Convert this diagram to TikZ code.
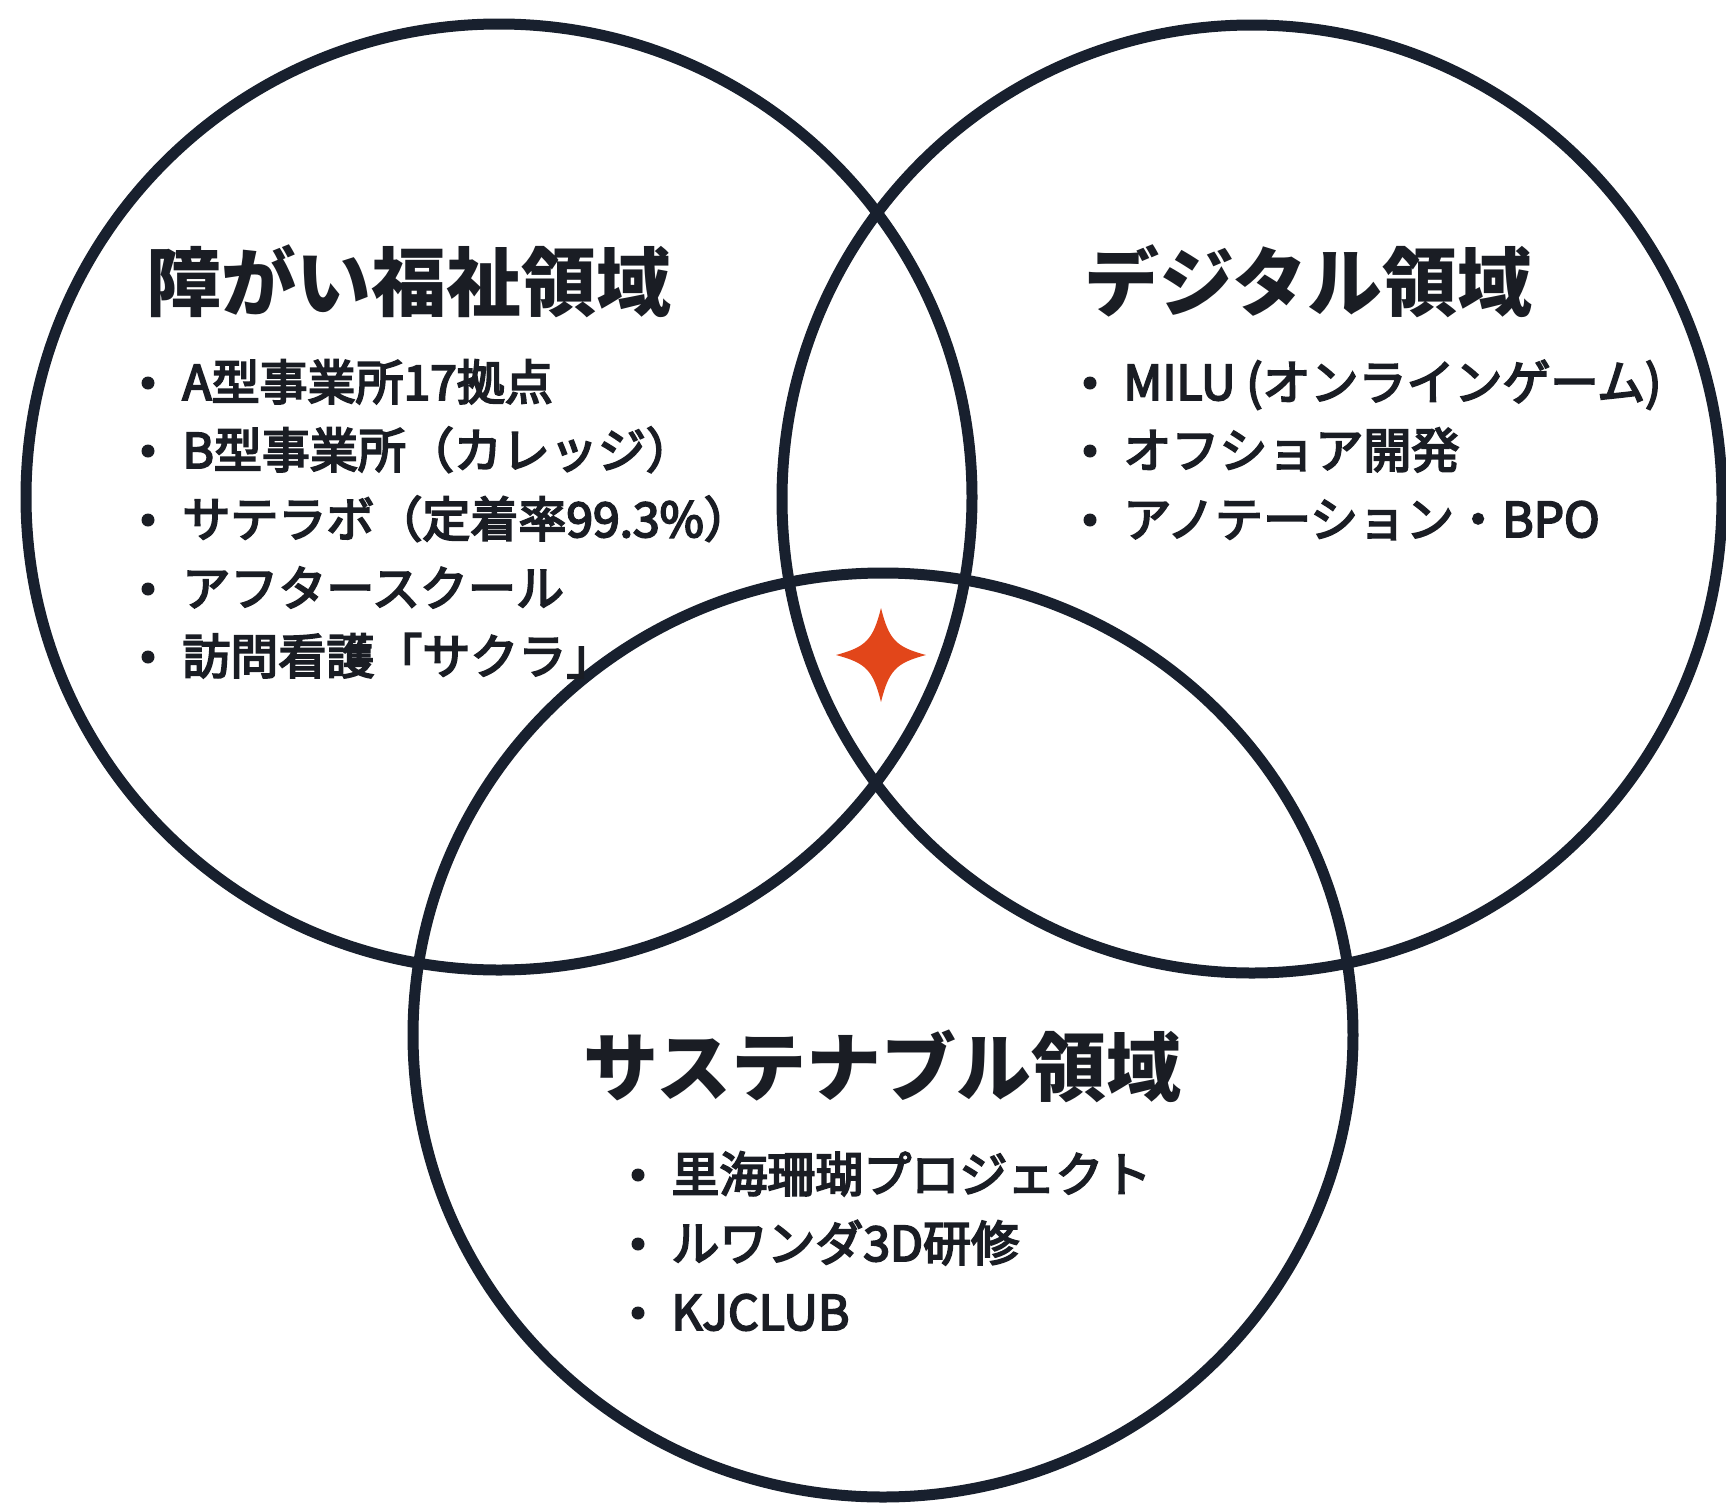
\documentclass[tikz,border=0pt]{standalone}
\usepackage{fontspec}
\newfontfamily\cjk{Noto Sans CJK JP}
\newfontfamily\cjkmed{Noto Sans CJK JP}[FakeBold=4]
\definecolor{ringcol}{HTML}{18202E}
\definecolor{txtcol}{HTML}{1A1D24}
\definecolor{starcol}{HTML}{E2461A}
\begin{document}
\begin{tikzpicture}[x=0.5pt,y=-0.5pt,
  ring/.style={draw=ringcol,line width=5.5pt},
  title/.style={anchor=base west,inner sep=0pt,text=txtcol,font=\cjk\bfseries\fontsize{37.5}{40}\selectfont},
  item/.style={anchor=base west,inner sep=0pt,text=txtcol,font=\cjkmed\fontsize{24}{26}\selectfont},
  dot/.style={circle,fill=txtcol,inner sep=0pt,minimum size=6.5pt}]
\useasboundingbox[fill=white] (0,0) rectangle (1726,1505);
% circles
\draw[ring] (499,497) ellipse [x radius=473,y radius=473];
\draw[ring] (1252,499) ellipse [x radius=470,y radius=474];
\draw[ring] (883,1035) ellipse [x radius=470,y radius=462];
% star
\coordinate (star) at (881,655);
\fill[starcol] ([shift={(0,-47)}]star)
  .. controls ([shift={(8,-15)}]star) and ([shift={(15,-8)}]star) .. ([shift={(45,0)}]star)
  .. controls ([shift={(15,8)}]star) and ([shift={(8,15)}]star) .. ([shift={(0,47)}]star)
  .. controls ([shift={(-8,15)}]star) and ([shift={(-15,8)}]star) .. ([shift={(-45,0)}]star)
  .. controls ([shift={(-15,-8)}]star) and ([shift={(-8,-15)}]star) .. cycle;
% left
\node[title] (t1) at (146,310) {障がい福祉領域};
\node[dot] (d11) at (148,383) {};
\node[item] (i11) at (182,400) {A型事業所17拠点};
\node[dot] (d12) at (148,451) {};
\node[item] (i12) at (182,468) {B型事業所（カレッジ）};
\node[dot] (d13) at (148,520) {};
\node[item] (i13) at (182,537) {サテラボ（定着率99.3\%）};
\node[dot] (d14) at (148,589) {};
\node[item] (i14) at (182,606) {アフタースクール};
\node[dot] (d15) at (148,657) {};
\node[item] (i15) at (182,674) {訪問看護「サクラ」};
% right
\node[title] (t2) at (1084,310) {デジタル領域};
\node[dot] (d21) at (1090,383) {};
\node[item] (i21) at (1123,400) {MILU (オンラインゲーム)};
\node[dot] (d22) at (1090,451) {};
\node[item] (i22) at (1123,468) {オフショア開発};
\node[dot] (d23) at (1090,520) {};
\node[item] (i23) at (1123,537) {アノテーション・BPO};
% bottom
\node[title] (t3) at (583,1095) {サステナブル領域};
\node[dot] (d31) at (638,1175) {};
\node[item] (i31) at (671,1192) {里海珊瑚プロジェクト};
\node[dot] (d32) at (638,1244) {};
\node[item] (i32) at (671,1261) {ルワンダ3D研修};
\node[dot] (d33) at (638,1313) {};
\node[item] (i33) at (671,1330) {KJCLUB};
\end{tikzpicture}
\end{document}
